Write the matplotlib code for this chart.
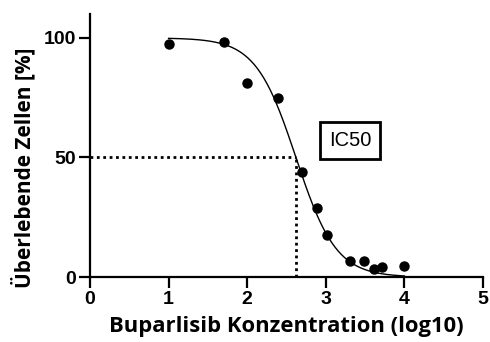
import numpy as np
import matplotlib
matplotlib.use("Agg")
import matplotlib.pyplot as plt

# Measured viability vs. log10 concentration
log_conc = [1.0, 1.70, 2.0, 2.39, 2.70, 2.89, 3.01, 3.31, 3.49, 3.61, 3.71, 4.0]
viability = [97.5, 98.5, 81.0, 75.0, 44.0, 29.0, 17.5, 6.5, 6.5, 3.5, 4.0, 4.5]

# Four-parameter logistic fit parameters
fit_top = 100.0
fit_bottom = 0.0
fit_log_ic50 = 2.62
fit_hill = 1.7

x_ticks = [0, 1, 2, 3, 4, 5]
y_ticks = [0, 50, 100]

fig = plt.figure(figsize=(4.9, 3.42), dpi=100)
ax = fig.add_axes([0.1837, 0.190, 0.802, 0.769])

xs = np.linspace(min(log_conc), max(log_conc), 300)
ys = fit_bottom + (fit_top - fit_bottom) / (1 + 10 ** ((xs - fit_log_ic50) * fit_hill))
ax.plot(xs, ys, color="black", lw=1.0, zorder=2)

ax.plot(log_conc, viability, "o", color="black", ms=6.5, zorder=3, clip_on=False)

# IC50 guide lines
half = (fit_top + fit_bottom) / 2
ax.plot([0, fit_log_ic50], [half, half], color="black", lw=2,
        linestyle=(0, (1, 1.3)), zorder=1)
ax.plot([fit_log_ic50, fit_log_ic50], [0, half], color="black", lw=2,
        linestyle=(0, (1, 1.3)), zorder=1)

ax.text(3.31, 57.0, "IC50", ha="center", va="center", fontsize=14.5,
        family="Liberation Sans",
        bbox=dict(boxstyle="square,pad=0.45", fc="white", ec="black", lw=2))

ax.set_xlim(0, 5)
ax.set_ylim(0, 110)
ax.set_xticks(x_ticks)
ax.set_yticks(y_ticks)
for s in ["top", "right"]:
    ax.spines[s].set_visible(False)
for s in ["left", "bottom"]:
    ax.spines[s].set_linewidth(1.6)
ax.tick_params(width=1.6, length=8, labelsize=14, pad=2)
for lbl in ax.get_xticklabels() + ax.get_yticklabels():
    lbl.set_family("Liberation Sans")
    lbl.set_fontweight("bold")

ax.set_xlabel("Buparlisib Konzentration (log10)", fontsize=15.8,
              family="Open Sans", fontweight="bold", labelpad=6)
ax.set_ylabel("Überlebende Zellen [%]", fontsize=15.0,
              family="Open Sans", fontweight="bold")
ax.yaxis.set_label_coords(-0.138, 0.416)

fig.savefig("out.png", dpi=100)
